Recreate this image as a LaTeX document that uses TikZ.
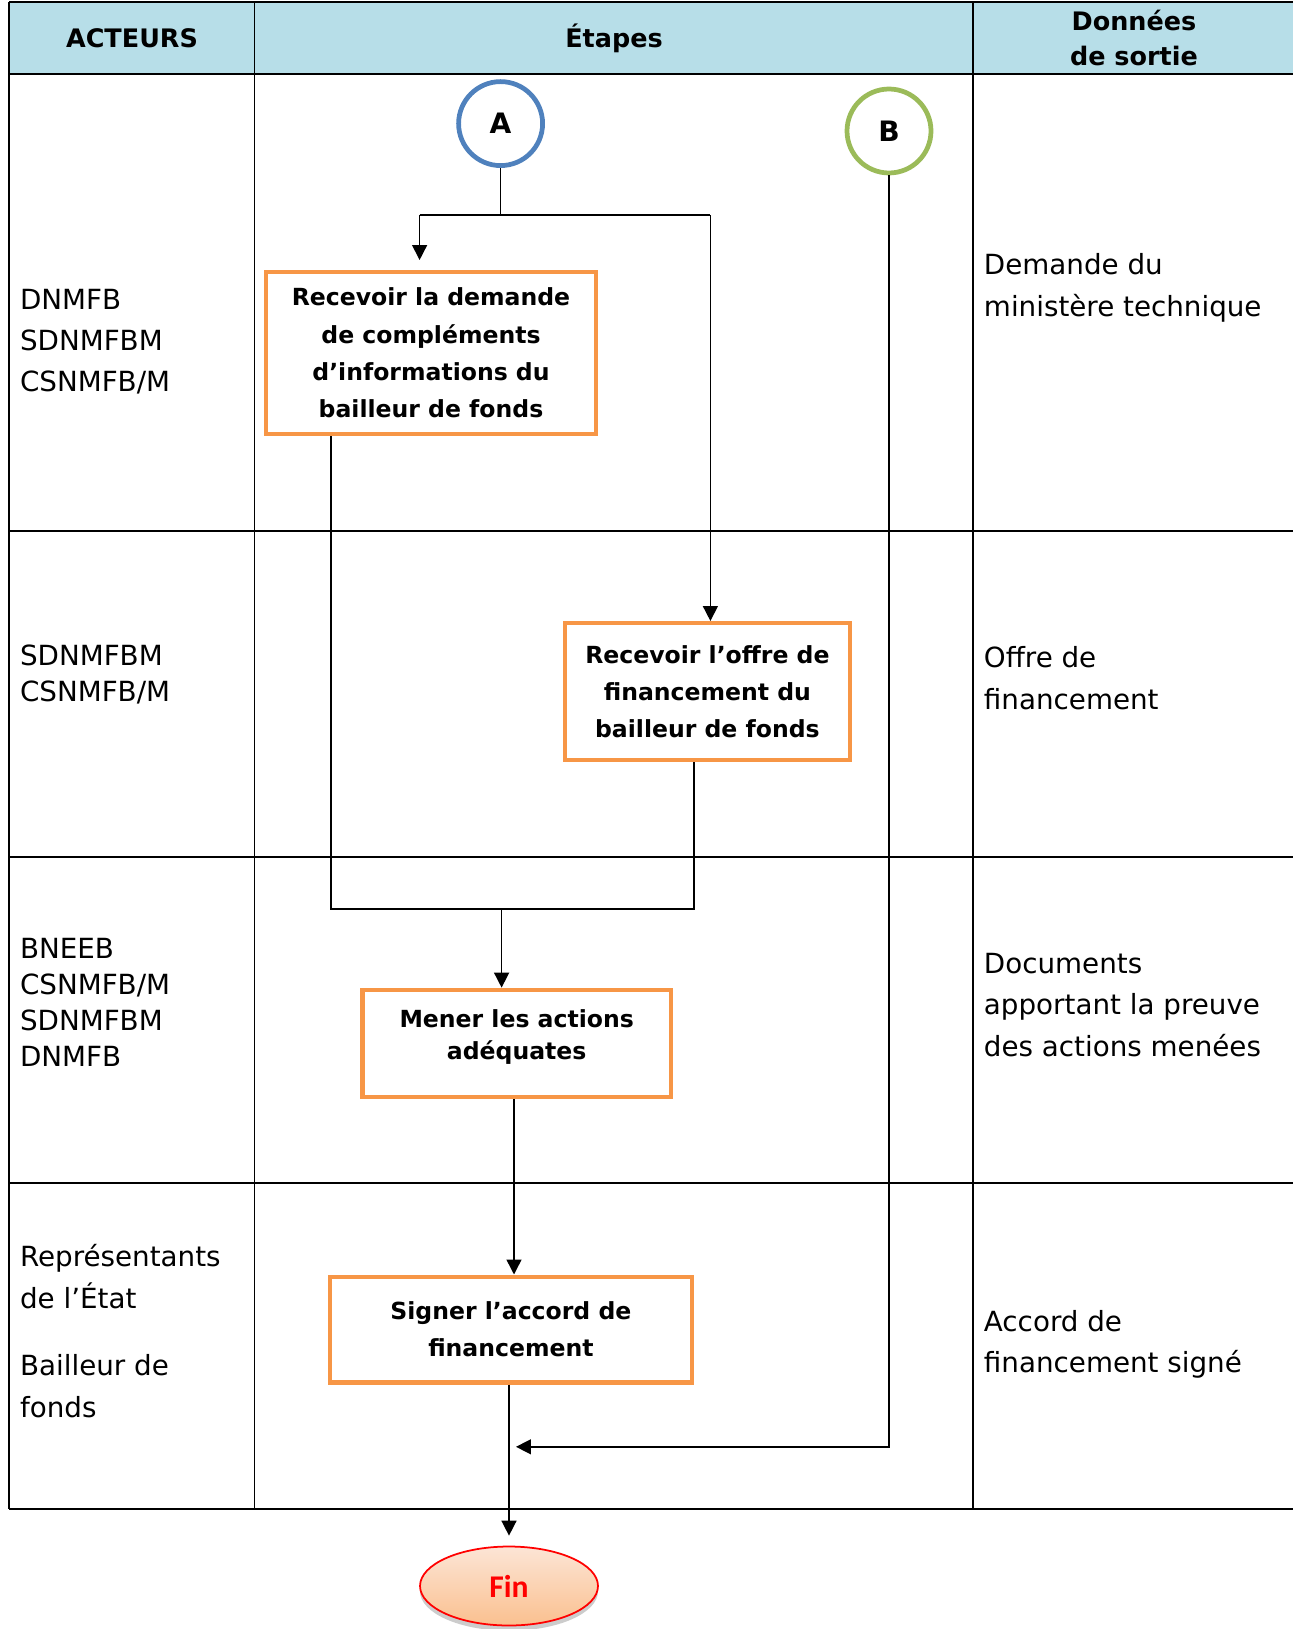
\documentclass[tikz,border=0pt]{standalone}
\usepackage{fontspec}
\setmainfont{DejaVu Sans}
\newfontfamily\finfont{Carlito}
\usetikzlibrary{shapes.geometric,arrows.meta,shadows}

\definecolor{entete}{RGB}{183,222,232}
\definecolor{bordure}{RGB}{247,150,70}
\definecolor{bleuA}{RGB}{79,129,189}
\definecolor{vertB}{RGB}{155,187,89}
\definecolor{peche1}{RGB}{252,229,214}
\definecolor{peche2}{RGB}{250,192,143}

\begin{document}
\begin{tikzpicture}[x=0.02cm, y=-0.02cm, >={Triangle[length=8.5pt,width=8.5pt]},
  grille/.style={line width=1.1pt},
  titre/.style={font=\fontsize{14.5}{20}\selectfont\bfseries, align=center},
  acteur/.style={anchor=west, inner xsep=0pt, align=left, font=\fontsize{15.8}{20.5}\selectfont},
  sortie/.style={anchor=west, inner xsep=0pt, align=left, font=\fontsize{15.8}{23.6}\selectfont},
  etape/.style={draw=bordure, line width=2.3pt, align=center, font=\fontsize{13.4}{21.2}\selectfont\bfseries},
  renvoi/.style={circle, line width=2.7pt, minimum size=1.68cm, font=\fontsize{16}{18}\selectfont\bfseries},
  lien/.style={line width=0.85pt}
]
\useasboundingbox (0,0) rectangle (1293,1629);

% en-tete du tableau
\fill[entete] (9.3,2) rectangle (1293,74);
\foreach \y in {2,74,531,857,1183,1509} \draw[grille] (9.3,\y) -- (1293,\y);
\foreach \x in {9.3,254.5,973} \draw[grille] (\x,2) -- (\x,1509);

\node[titre] (acteurs) at (132,38) {ACTEURS};
\node[titre] (etapes) at (614,38) {Étapes};
\node[titre] (donnees) at (1134,38) {Données\\de sortie};

% acteurs
\node[acteur, font=\fontsize{15.8}{23.6}\selectfont] (act1) at (19.7,341.7) {DNMFB\\SDNMFBM\\CSNMFB/M};
\node[acteur] (act2) at (19.7,674) {SDNMFBM\\CSNMFB/M};
\node[acteur] (act3) at (19.7,1002.8) {BNEEB\\CSNMFB/M\\SDNMFBM\\DNMFB};
\node[acteur, font=\fontsize{15.8}{23.6}\selectfont] (act4) at (19.7,1331) {Représentants\\de l’État\\[0.52cm]Bailleur de\\fonds};

% donnees de sortie
\node[sortie] (sort1) at (983.6,287.7) {Demande du\\ministère technique};
\node[sortie] (sort2) at (983.6,678.2) {Offre de\\financement};
\node[sortie] (sort3) at (983.6,1005) {Documents\\apportant la preuve\\des actions menées};
\node[sortie] (sort4) at (983.6,1344.5) {Accord de\\financement signé};

% etapes
\node[renvoi, draw=bleuA] (A) at (500.6,123.6) {A};
\node[renvoi, draw=vertB] (B) at (889,131) {B};

\node[etape, minimum width=6.6cm, minimum height=3.24cm] (recDemande) at (431,353) {Recevoir la demande\\de compléments\\d’informations du\\bailleur de fonds};
\node[etape, minimum width=5.69cm, minimum height=2.74cm] (recOffre) at (707.4,691.5) {Recevoir l’offre de\\financement du\\bailleur de fonds};
\node[etape, minimum width=6.17cm, minimum height=2.15cm, text depth=0.35cm, font=\fontsize{13.4}{18}\selectfont\bfseries] (mener) at (516.7,1043.4) {Mener les actions\\adéquates};
\node[etape, minimum width=7.24cm, minimum height=2.12cm] (signer) at (510.9,1329.5) {Signer l’accord de\\financement};

\node[ellipse, draw=red, line width=1pt, top color=peche1, bottom color=peche2,
  drop shadow={shadow xshift=0pt, shadow yshift=-3pt, fill=black!40},
  minimum width=3.56cm, minimum height=1.58cm, text=red,
  font=\finfont\fontsize{18}{20}\selectfont\bfseries] (fin) at (509,1586) {Fin};

% liaisons
\coordinate (jA) at (500.6,215);
\coordinate (gA) at (419.6,215);
\coordinate (dA) at (710.4,215);
\draw[lien] (A) -- (jA);
\draw[lien] (gA) -- (dA);
\draw[lien, ->, shorten >=0.2cm] (gA) -- (gA |- recDemande.north);
\draw[lien, ->] (dA) -- (dA |- recOffre.north);

\coordinate (jG) at (331,908.8);
\coordinate (jD) at (693.8,908.8);
\coordinate (jM) at (501.6,908.8);
\draw[lien] (recDemande.south -| jG) -- (jG) -- (jD) -- (recOffre.south -| jD);
\draw[lien, ->] (jM) -- (jM |- mener.north);

\coordinate (xM) at (514,1099);
\draw[lien, ->] (mener.south -| xM) -- (signer.north -| xM);

\coordinate (bB) at (889,1446.8);
\coordinate (bF) at (516,1446.8);
\draw[lien, ->] (B) -- (bB) -- (bF);
\draw[lien, ->, shorten >=0.2cm] (signer.south -| fin) -- (fin);

\end{tikzpicture}
\end{document}
